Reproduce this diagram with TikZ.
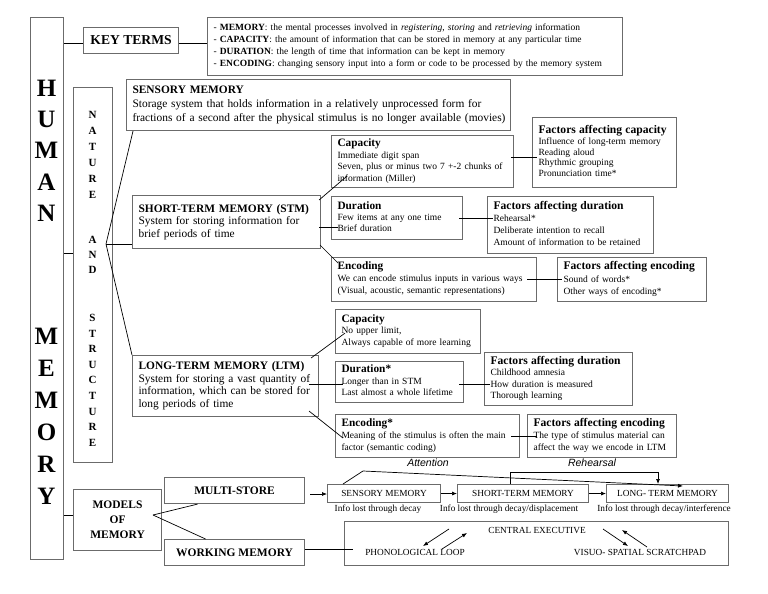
\documentclass[tikz,border=0pt]{standalone}
\usepackage{fontspec}
\setmainfont{Liberation Serif}
\newfontfamily\sansfam{Liberation Sans}
\usetikzlibrary{arrows.meta}
\newcommand\tb[1]{\begin{tabular}{@{}l@{}}#1\end{tabular}}
\newcommand\fs[2]{\fontsize{#1}{#2}\selectfont}
\newcommand\ttl[2]{{\fs{#1}{#1}\bfseries #2}}
\definecolor{bord}{gray}{0.42}
\newcommand\mybox[7]{\node[bx, font=#6, minimum width={(#4-#2)*1pt}, minimum height={(#5-#3)*1pt}, text width={(#4-#2)*1pt-12pt}] (#1) at (#2,#3) {\tb{#7}};}
\begin{document}
\begin{tikzpicture}[x=1pt,y=-1pt,
  bx/.style={draw=bord, line width=1.1pt, rectangle, inner xsep=6pt, inner ysep=0pt, anchor=north west},
  ebx/.style={bx, inner sep=0pt},
  ln/.style={draw=black, line width=0.7pt},
  ar/.style={ln, -{Latex[length=5pt,width=4pt]}},
  big/.style={font=\fs{25}{25}\bfseries, inner sep=0pt},
  nasl/.style={font=\fs{11}{11}\bfseries, inner sep=0pt},
  fb/.style={ebx, minimum height=18pt, font=\fs{9.3}{10}},
  inf/.style={inner sep=0pt, font=\fs{9.3}{10}},
  fl/.style={inner sep=0pt, font=\fs{9.3}{10}},
  lab/.style={inner sep=0pt, font=\sansfam\itshape\fs{10.5}{11}}]
\useasboundingbox (0,0) rectangle (768,594);
\fill[white] (0,0) rectangle (768,594);

% ---- left column
\node[ebx, minimum width=33pt, minimum height=542pt] (human) at (30,17) {};
\foreach \L/\Y [count=\i] in {H/88,U/119.3,M/150.6,A/181.9,N/213.2,M/336,E/368,M/400,O/432,R/464,Y/496}
  \node[big] (hm\i) at (46.5,\Y) {\L};
\node[ebx, minimum width=39pt, minimum height=375pt] (nas) at (73,87) {};
\foreach \L/\Y [count=\i] in {N/115,A/131,T/147,U/163,R/179,E/195,A/240,N/255,D/270,S/318,T/333.6,R/349.2,U/364.8,C/380.4,T/396,U/411.6,R/427.2,E/442.8}
  \node[nasl] (ns\i) at (92.5,\Y) {\L};

% ---- key terms
\node[ebx, minimum width=95pt, minimum height=26pt, font=\fs{13.6}{14}\bfseries] (keyterms) at (83,27) {KEY TERMS};
\mybox{defs}{207}{17}{622}{75}{\fs{9.5}{12}}{- \textbf{MEMORY}: the mental processes involved in \textit{registering}, \textit{storing} and \textit{retrieving} information\\
- \textbf{CAPACITY}: the amount of information that can be stored in memory at any particular time\\
- \textbf{DURATION}: the length of time that information can be kept in memory\\
- \textbf{ENCODING}: changing sensory input into a form or code to be processed by the memory system}

% ---- nature and structure
\mybox{sensory}{126}{79}{510}{130}{\fs{11.4}{14}}{\ttl{11.4}{SENSORY MEMORY}\\Storage system that holds information in a relatively unprocessed form for\\fractions of a second after the physical stimulus is no longer available (movies)}
\mybox{stm}{132}{195}{320}{248}{\fs{11.4}{12.5}}{\ttl{11.4}{SHORT-TERM MEMORY (STM)}\\System for storing information for\\brief periods of time}
\mybox{ltm}{132}{355}{318}{416}{\fs{11.4}{12.5}}{\ttl{11.4}{LONG-TERM MEMORY (LTM)}\\System for storing a vast quantity of\\information, which can be stored for\\long periods of time}

\mybox{stmcap}{331}{135}{513}{187}{\fs{9.5}{11.5}}{\ttl{11.3}{Capacity}\\Immediate digit span\\Seven, plus or minus two 7 +-2 chunks of\\information (Miller)}
\mybox{stmdur}{331}{196}{462}{239}{\fs{9.5}{11}}{\ttl{11.3}{Duration}\\Few items at any one time\\Brief duration}
\mybox{stmenc}{331}{257}{536}{301}{\fs{9.5}{12}}{\ttl{11.3}{Encoding}\\We can encode stimulus inputs in various ways\\(Visual, acoustic, semantic representations)}
\mybox{fcap}{532}{117}{676}{187}{\fs{9.5}{10.8}}{\ttl{11.6}{Factors affecting capacity}\\Influence of long-term memory\\Reading aloud\\Rhythmic grouping\\Pronunciation time*}
\mybox{fdur}{487}{196}{653}{253}{\fs{9.5}{12}}{\ttl{11.6}{Factors affecting duration}\\Rehearsal*\\Deliberate intention to recall\\Amount of information to be retained}
\mybox{fenc}{557}{257}{706}{301}{\fs{9.5}{12.5}}{\ttl{11.6}{Factors affecting encoding}\\Sound of words*\\Other ways of encoding*}

\mybox{ltmcap}{335}{309}{480}{353}{\fs{9.5}{11.5}}{\ttl{11.3}{Capacity}\\No upper limit,\\Always capable of more learning}
\mybox{ltmdur}{335}{361}{463}{402}{\fs{9.5}{11.5}}{\ttl{11.3}{Duration*}\\Longer than in STM\\Last almost a whole lifetime}
\mybox{ltmenc}{335}{414}{519}{457}{\fs{9.5}{12}}{\ttl{11.3}{Encoding*}\\Meaning of the stimulus is often the main\\factor (semantic coding)}
\mybox{fldur}{484}{352}{632}{405}{\fs{9.5}{11.2}}{\ttl{11.6}{Factors affecting duration}\\Childhood amnesia\\How duration is measured\\Thorough learning}
\mybox{flenc}{527}{414}{676}{457}{\fs{9.5}{12}}{\ttl{11.6}{Factors affecting encoding}\\The type of stimulus material can\\affect the way we encode in LTM}

% ---- models
\node[ebx, minimum width=88pt, minimum height=61pt, align=center, font=\fs{11.5}{15}\bfseries] (models) at (73,489) {MODELS\\OF\\MEMORY};
\node[ebx, minimum width=140pt, minimum height=26pt, font=\fs{11.5}{12}\bfseries] (multi) at (164,477) {MULTI-STORE};
\node[ebx, minimum width=140pt, minimum height=26pt, font=\fs{11.5}{12}\bfseries] (working) at (164,539) {WORKING MEMORY};
\node[fb, minimum width=113pt] (bsens) at (327,484) {SENSORY MEMORY};
\node[fb, minimum width=131pt] (bstm) at (457,484) {SHORT-TERM MEMORY};
\node[fb, minimum width=122pt] (bltm) at (606,484) {LONG- TERM MEMORY};
\node[inf] (i1) at (378,509) {Info lost through decay};
\node[inf] (i2) at (509,509) {Info lost through decay/displacement};
\node[inf] (i3) at (664,509) {Info lost through decay/interference};
\node[ebx, minimum width=384pt, minimum height=44pt] (wm) at (344,521) {};
\node[fl] (ce) at (537,530) {CENTRAL EXECUTIVE};
\node[fl] (pl) at (415,552) {PHONOLOGICAL LOOP};
\node[fl] (vss) at (640,552) {VISUO- SPATIAL SCRATCHPAD};
\node[lab] (att) at (428,463) {Attention};
\node[lab] (reh) at (592,463) {Rehearsal};

% ---- coordinates
\coordinate (y43) at (0,43);
\coordinate (y253) at (0,253);
\coordinate (y515) at (0,515);
\coordinate (apex) at (106,244);
\coordinate (y157) at (0,157);
\coordinate (y218) at (0,218);
\coordinate (y227) at (0,227);
\coordinate (y279) at (0,279);
\coordinate (y384) at (0,384);
\coordinate (y436) at (0,436);
\coordinate (y494) at (0,494);
\coordinate (y549) at (0,549);
\coordinate (y472) at (0,472);
\coordinate (mapex) at (153,515);
\coordinate (atk) at (363,471);
\coordinate (rs) at ([xshift=53pt]bstm.north west);
\coordinate (re) at ([xshift=52pt]bltm.north west);

% ---- connectors
\draw[ln] (human.east |- y43) -- (keyterms.west |- y43);
\draw[ln] (keyterms.east |- y43) -- (defs.west |- y43);
\draw[ln] (human.east |- y253) -- (nas.west |- y253);
\draw[ln] (human.east |- y515) -- (models.west |- y515);
\draw[ln] ([xshift=7pt]sensory.south west) -- (apex) -- (ltm.north west);
\draw[ln] (apex) -- (stm.west |- apex);

\draw[ln] ([shift={(-2pt,-5pt)}]stm.north east) -- ([shift={(16pt,12pt)}]stmcap.south west);
\draw[ln, shorten <=-2pt, shorten >=-7pt] (stm.east |- y227) -- (stmdur.west |- y227);
\draw[ln] ([shift={(-1pt,4pt)}]stm.south east) -- ([shift={(7pt,-6pt)}]stmenc.north west);
\draw[ln, shorten <=-3pt, shorten >=-5pt] (stmcap.east |- y157) -- (fcap.west |- y157);
\draw[ln, shorten <=-4pt, shorten >=-6pt] (stmdur.east |- y218) -- (fdur.west |- y218);
\draw[ln, shorten <=-10pt, shorten >=-5pt] (stmenc.east |- y279) -- (fenc.west |- y279);

\draw[ln] ([shift={(-8pt,-3pt)}]ltm.north east) -- ([shift={(10pt,21pt)}]ltmcap.south west);
\draw[ln, shorten <=-10pt, shorten >=-8pt] (ltm.east |- y384) -- (ltmdur.west |- y384);
\draw[ln] ([shift={(-10pt,6pt)}]ltm.south east) -- ([shift={(8pt,-24pt)}]ltmenc.north west);
\draw[ln, shorten <=-5pt, shorten >=-6pt] (ltmdur.east |- y384) -- (fldur.west |- y384);
\draw[ln, shorten <=-9pt, shorten >=-10pt] (ltmenc.east |- y436) -- (flenc.west |- y436);

\draw[ln] (mapex) -- ([xshift=-37pt]multi.south);
\draw[ln] (mapex) -- ([xshift=-29pt]working.north);
\draw[ar, shorten <=5pt] (multi.east |- y494) -- (bsens.west |- y494);
\draw[ar] (bsens.east) -- (bstm.west);
\draw[ar] (bstm.east) -- (bltm.west);
\draw[ar] ([xshift=16pt]bsens.north west) -- (atk) -- ([shift={(77pt,-2pt)}]bltm.north west);
\draw[ar] (rs) -- (rs |- y472) -- (re |- y472) -- (re);
\draw[ln, shorten >=-9pt] (working.east |- y549) -- (wm.west |- y549);

\draw[ar] ([shift={(34pt,23pt)}]pl.center) -- ([shift={(8pt,6pt)}]pl.center);
\draw[ar] ([shift={(27pt,3pt)}]pl.center) -- ([shift={(52pt,19pt)}]pl.center);
\draw[ar] ([shift={(-37pt,23pt)}]vss.center) -- ([shift={(-12pt,6pt)}]vss.center);
\draw[ar] ([shift={(7pt,5pt)}]vss.center) -- ([shift={(-18pt,22pt)}]vss.center);
\end{tikzpicture}
\end{document}
